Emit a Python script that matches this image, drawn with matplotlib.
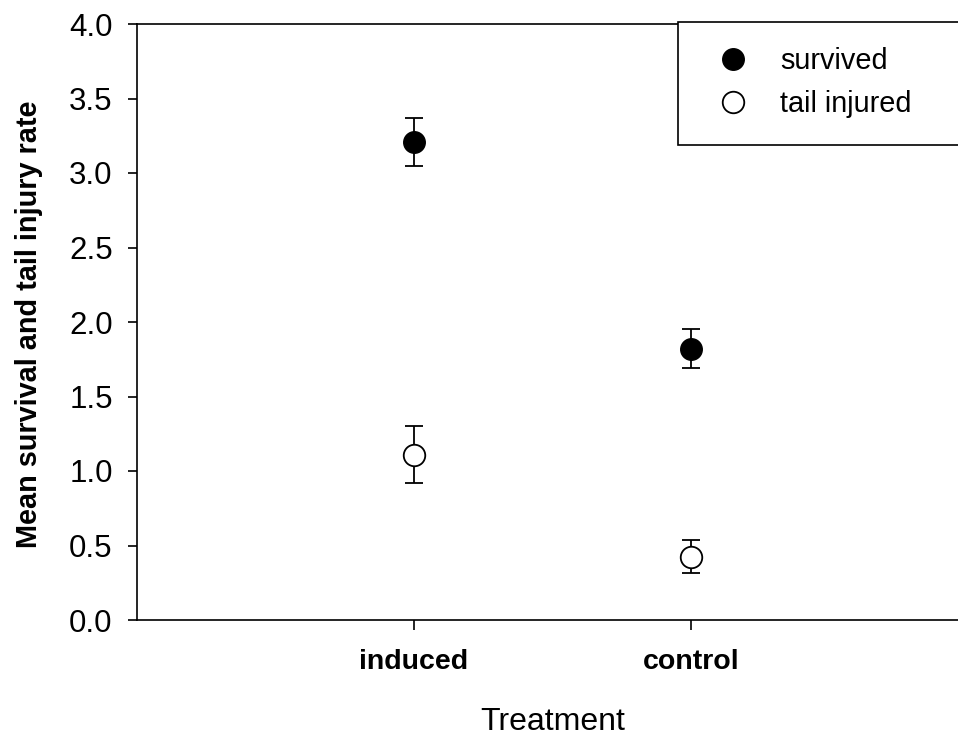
import numpy as np
import matplotlib.pyplot as plt
from matplotlib.patches import Rectangle
from matplotlib.lines import Line2D

plt.rcParams['font.family'] = ['Liberation Sans', 'DejaVu Sans']

treatments = ['induced', 'control']
survived = [3.21, 1.82]
survived_err = [0.16, 0.13]
injured = [1.11, 0.425]
injured_err = [0.19, 0.11]

W, H = 958, 740
fig = plt.figure(figsize=(W / 100, H / 100), dpi=100)
# axes runs off the right edge like the original export
ax = fig.add_axes([137 / W, 1 - 620 / H, (968 - 137) / W, (620 - 24) / H])

x = np.arange(1, len(treatments) + 1)
ax.errorbar(x, survived, yerr=survived_err, fmt='o', color='black',
            markerfacecolor='black', markeredgecolor='black', markersize=15.5,
            elinewidth=1.3, capsize=6.5, capthick=1.3, zorder=3)
ax.errorbar(x, injured, yerr=injured_err, fmt='o', color='black',
            markerfacecolor='white', markeredgecolor='black', markersize=15.5,
            markeredgewidth=1.3, elinewidth=1.3, capsize=6.5, capthick=1.3, zorder=3)

ax.set_xlim(0, 3)
ax.set_ylim(0, 4)
yt = np.arange(0, 4.01, 0.5)
ax.set_yticks(yt)
ax.set_yticklabels([f'{v:.1f}' for v in yt], fontsize=22.5)
ax.set_xticks(x)
ax.set_xticklabels(treatments, fontsize=20.5, fontweight='bold')
ax.tick_params(axis='y', direction='out', length=6.5, width=1.2, pad=11)
ax.tick_params(axis='x', direction='out', length=7.5, width=1.2, pad=13.5)
ax.spines['right'].set_visible(False)
for s in ['left', 'bottom', 'top']:
    ax.spines[s].set_linewidth(1.2)

ax.set_xlabel('Treatment', fontsize=23, labelpad=23)
ax.set_ylabel('Mean survival and tail injury rate', fontsize=20.8, fontweight='bold', labelpad=19)
ax.yaxis.label.set_y(0.497)

# legend box in the upper right corner, covering the top spine
fig.patches.append(Rectangle((678 / W, 1 - 145 / H), (W - 678 + 5) / W, (145 - 22) / H,
                             transform=fig.transFigure, facecolor='white',
                             edgecolor='black', linewidth=1.2, zorder=5))
handles = [
    Line2D([], [], marker='o', linestyle='none', markersize=15.5,
           markerfacecolor='black', markeredgecolor='black'),
    Line2D([], [], marker='o', linestyle='none', markersize=15.5,
           markerfacecolor='white', markeredgecolor='black', markeredgewidth=1.3),
]
leg = fig.legend(handles, ['survived', 'tail injured'], loc='center left',
                 bbox_to_anchor=(690 / W, 1 - 82.5 / H), frameon=False,
                 fontsize=20.8, handletextpad=0.62, labelspacing=0.5, borderpad=0)
leg.set_zorder(6)

fig.savefig('out.png', dpi=100)
